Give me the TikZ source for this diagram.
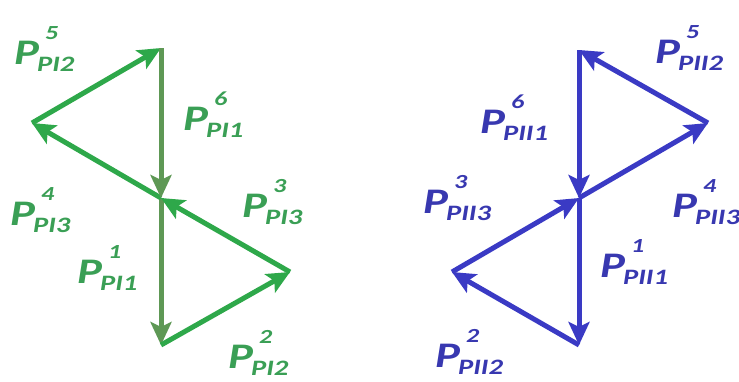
\documentclass[tikz,border=0pt]{standalone}
\usepackage{fontspec}
\setmainfont{Carlito}[FakeStretch=1.3]
\usetikzlibrary{arrows.meta}
\definecolor{gslant}{HTML}{2EA84A}
\definecolor{gvert}{HTML}{5E9855}
\definecolor{gtext}{HTML}{3A9F55}
\definecolor{bline}{HTML}{3A3AC4}
\definecolor{btext}{HTML}{3838B0}
\newcommand\supfont{\fontsize{20}{20}\selectfont\bfseries\itshape}
\newcommand\subfont{\fontsize{22}{22}\selectfont\bfseries\itshape}
% P with stacked superscript and subscript
\newcommand\pl[2]{P\rlap{\raisebox{25pt}{\kern6pt\supfont #1}}\raisebox{-7pt}{\kern-2pt\subfont #2}}
\tikzset{
  vec/.style={line width=5pt, -{Stealth[length=23pt,width=21pt,inset=5pt]}},
  lbl/.style={anchor=base west, inner sep=0pt, font=\fontsize{36}{36}\selectfont\bfseries\itshape},
}
\begin{document}
\begin{tikzpicture}[x=1pt,y=-1pt]
\useasboundingbox (0,0) rectangle (739,381);
% left star
\coordinate (gT) at (161,48);
\coordinate (gC) at (161,198);
\coordinate (gB) at (161,345);
\coordinate (gR) at (290,272);
\coordinate (gL) at (32,123);
\draw[vec,gvert] (gC) -- (gB);
\draw[vec,gslant] (gB) -- (gR);
\draw[vec,gslant] (gR) -- (gC);
\draw[vec,gslant] (gC) -- (gL);
\draw[vec,gslant] (gL) -- (gT);
\draw[vec,gvert] (gT) -- (gC);
\node[lbl,text=gtext] (g1) at (77,283) {\pl{1}{PI1}};
\node[lbl,text=gtext] (g2) at (228,368) {\pl{2}{PI2}};
\node[lbl,text=gtext] (g3) at (242,217) {\pl{3}{PI3}};
\node[lbl,text=gtext] (g4) at (10,225) {\pl{4}{PI3}};
\node[lbl,text=gtext] (g5) at (14,64) {\pl{5}{PI2}};
\node[lbl,text=gtext] (g6) at (183,130) {\pl{6}{PI1}};
% right star
\coordinate (bT) at (579,50);
\coordinate (bC) at (579,198);
\coordinate (bB) at (579,345);
\coordinate (bL) at (452,272);
\coordinate (bR) at (708,123);
\draw[vec,bline] (bC) -- (bB);
\draw[vec,bline] (bB) -- (bL);
\draw[vec,bline] (bL) -- (bC);
\draw[vec,bline] (bC) -- (bR);
\draw[vec,bline] (bR) -- (bT);
\draw[vec,bline] (bT) -- (bC);
\node[lbl,text=btext] (b1) at (600,277) {\pl{1}{PII1}};
\node[lbl,text=btext] (b2) at (435,367) {\pl{2}{PII2}};
\node[lbl,text=btext] (b3) at (423,213) {\pl{3}{PII3}};
\node[lbl,text=btext] (b4) at (672,217) {\pl{4}{PII3}};
\node[lbl,text=btext] (b5) at (655,63) {\pl{5}{PII2}};
\node[lbl,text=btext] (b6) at (480,133) {\pl{6}{PII1}};
\end{tikzpicture}
\end{document}
